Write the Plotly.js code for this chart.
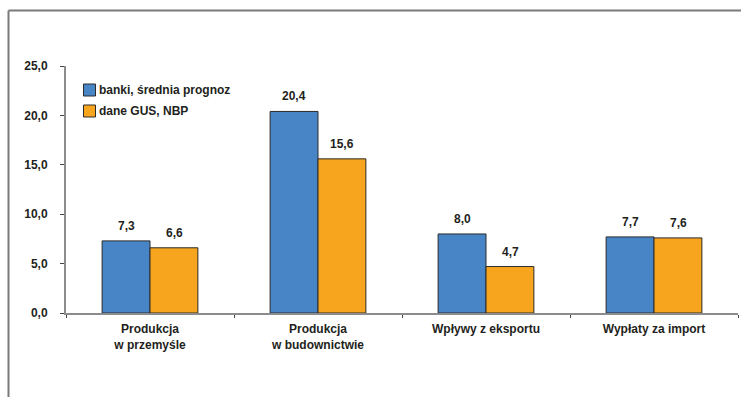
<!DOCTYPE html>
<html><head><meta charset="utf-8">
<script src="https://cdn.plot.ly/plotly-3.0.1.min.js"></script>
<style>body{margin:0;background:#fff}#c{width:741px;height:397px}</style>
</head><body><div id="c"></div>
<script>
const categories = ["Produkcja<br>w przemyśle", "Produkcja<br>w budownictwie", "Wpływy z eksportu", "Wypłaty za import"];
const banki = [7.3, 20.4, 8.0, 7.7];
const gus = [6.6, 15.6, 4.7, 7.6];
const seriesNames = ["banki, średnia prognoz", "dane GUS, NBP"];
const seriesColors = ['#4785c7', '#f7a51e'];
const yTicks = [0, 5, 10, 15, 20, 25];

const font = {family: "Liberation Sans, Arial, sans-serif", size: 12, color: "#231f20", weight: 700};
const fmt = v => v.toFixed(1).replace('.', ',');

const traces = [banki, gus].map((arr, s) => ({
  type: 'bar', x: categories, y: arr, name: seriesNames[s],
  marker: {color: seriesColors[s], line: {color: '#2a2a2a', width: 1}}
}));

const W = 672, H = 247, L = 66, T = 66;
const px = x => (x - L) / W;
const py = y => (T + H - y) / H;

const annotations = [];
[banki, gus].forEach((arr, s) => {
  arr.forEach((v, i) => {
    annotations.push({x: categories[i], y: v, text: fmt(v), showarrow: false,
      xref: 'x', yref: 'y', xshift: s === 0 ? -24 : 24, yshift: 15, font: font});
  });
});

const shapes = [
  {type: 'line', xref: 'paper', yref: 'paper', x0: px(8.5), x1: px(8.5), y0: py(10.5), y1: py(400),
   line: {color: '#7a7a7a', width: 2}},
  {type: 'line', xref: 'paper', yref: 'paper', x0: px(8.5), x1: px(745), y0: py(10.5), y1: py(10.5),
   line: {color: '#7a7a7a', width: 2}}
];
// manual legend
seriesNames.forEach((n, s) => {
  const cy = 90 + s * 21;
  shapes.push({type: 'rect', xref: 'paper', yref: 'paper', x0: px(83.5), x1: px(95.5), y0: py(cy - 6), y1: py(cy + 6),
    fillcolor: seriesColors[s], line: {color: '#2a2a2a', width: 1}});
  annotations.push({xref: 'paper', yref: 'paper', x: px(97), y: py(cy), xanchor: 'left', yanchor: 'middle',
    text: n, showarrow: false, font: font});
});

const layout = {
  width: 741, height: 397,
  margin: {l: L, r: 741 - L - W, t: T, b: 397 - T - H},
  paper_bgcolor: '#fff', plot_bgcolor: '#fff',
  separators: ', ',
  barmode: 'group', bargap: 0.43, bargroupgap: 0,
  showlegend: false,
  xaxis: {showline: true, linecolor: '#8c8c8c', linewidth: 2, ticks: 'outside', tickson: 'boundaries',
    ticklen: 3, tickcolor: '#444', tickfont: font, fixedrange: true, automargin: false, ticklabelstandoff: 4},
  yaxis: {range: [0, 25], tickvals: yTicks, tickformat: '.1f', showline: true, linecolor: '#8c8c8c', linewidth: 2,
    ticks: 'outside', ticklen: 4, tickcolor: '#444', showgrid: false, zeroline: false, tickfont: font,
    automargin: false, ticklabelstandoff: 10},
  annotations: annotations,
  shapes: shapes
};
Plotly.newPlot('c', traces, layout, {displayModeBar: false, staticPlot: true});
</script></body></html>
